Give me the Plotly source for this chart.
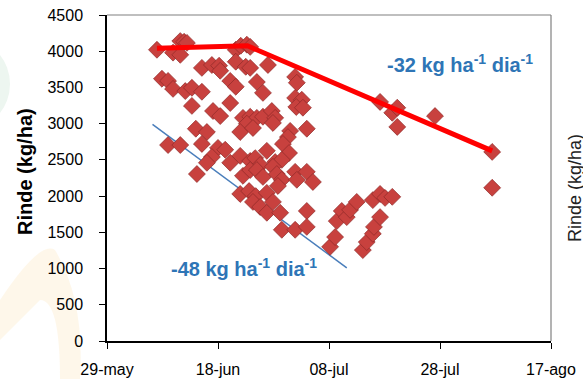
import pandas as pd
import plotly.graph_objects as go

# ---- data ----
fecha_base = "2014-05-29"
dias = [9.0, 13.2, 13.9, 14.4, 11.9, 13.2, 23.2, 24.1, 25.2, 25.8,
        23.2, 25.0, 17.1, 18.9, 20.2, 20.4, 25.8, 29.0, 9.9, 11.0,
        11.9, 14.1, 15.3, 17.1, 22.2, 23.2, 27.0, 28.1, 33.9, 34.2,
        15.3, 19.1, 20.4, 22.2, 33.9, 35.1, 34.1, 35.3, 24.5, 25.8,
        27.0, 28.1, 29.7, 30.3, 29.9, 25.2, 16.0, 18.0, 24.0, 26.3,
        33.0, 36.0, 32.6, 11.0, 13.2, 17.1, 20.0, 21.3, 24.0, 25.8,
        26.7, 27.6, 28.8, 30.3, 31.7, 32.8, 31.5, 18.9, 18.0, 22.2,
        16.2, 24.5, 25.8, 27.0, 28.1, 29.9, 30.6, 31.5, 33.9, 36.0,
        34.2, 37.1, 24.0, 25.6, 26.8, 28.8, 30.8, 26.3, 27.6, 28.8,
        29.9, 31.2, 36.0, 31.5, 33.9, 36.0, 40.2, 41.1, 41.4, 42.3,
        43.2, 43.8, 45.0, 46.1, 46.8, 47.9, 48.1, 49.2, 47.9, 49.2,
        50.1, 51.4, 49.2, 51.4, 52.3, 52.3, 59.1, 69.4, 69.4]
rinde = [4020, 4140, 4130, 4115, 3980, 3950, 4020, 4075, 4090, 4060,
         3855, 3785, 3770, 3810, 3800, 3730, 3770, 3810, 3620, 3590,
         3480, 3450, 3495, 3440, 3590, 3510, 3575, 3425, 3645, 3565,
         3245, 3175, 3105, 3285, 3355, 3330, 3230, 3220, 3080, 3095,
         3080, 3095, 3175, 3080, 3010, 3000, 2930, 2885, 2885, 2940,
         2900, 2930, 2815, 2705, 2705, 2720, 2665, 2640, 2555, 2485,
         2525, 2430, 2625, 2470, 2720, 2595, 2500, 2540, 2460, 2460,
         2305, 2280, 2360, 2360, 2265, 2405, 2305, 2225, 2335, 2335,
         2225, 2195, 2030, 2070, 2000, 2045, 2140, 1920, 1850, 1770,
         1920, 1770, 1795, 1535, 1535, 1575, 1300, 1435, 1655, 1795,
         1710, 1810, 1920, 1255, 1365, 1480, 1575, 1710, 1945, 2030,
         1975, 1990, 3300, 3150, 3220, 2955, 3105, 2610, 2115]

# upper boundary (red) and lower trend (blue)
dias_limite = [9.0, 25.3, 69.4]
rinde_limite = [4040, 4075, 2625]
dias_azul = [8.2, 43.2]
rinde_azul = [2990, 1010]

tick_dias = [0, 20, 40, 60, 80]
tick_text = ["29-may", "18-jun", "08-jul", "28-jul", "17-ago"]
y_ticks = [0, 500, 1000, 1500, 2000, 2500, 3000, 3500, 4000, 4500]

base = pd.Timestamp(fecha_base)
to_date = lambda ds: [base + pd.Timedelta(days=d) for d in ds]

fig = go.Figure()
fig.add_trace(go.Scatter(
    x=to_date(dias_azul), y=rinde_azul, mode="lines",
    line=dict(color="#4A7EBB", width=1.5), hoverinfo="skip"))
fig.add_trace(go.Scatter(
    x=to_date(dias), y=rinde, mode="markers",
    marker=dict(symbol="diamond", size=13, color="#C8413E",
                line=dict(color="#8E2A28", width=0.7))))
fig.add_trace(go.Scatter(
    x=to_date(dias_limite), y=rinde_limite, mode="lines",
    line=dict(color="#FF0000", width=5), hoverinfo="skip"))

font_main = "Liberation Sans, Arial, sans-serif"
L, R, T, B = 107, 32, 15, 38
W, H = 583, 379
pw, ph = W - L - R, H - T - B
px = lambda x: (x - L) / pw
py = lambda y: (H - B - y) / ph

fig.update_layout(
    width=W, height=H, margin=dict(l=L, r=R, t=T, b=B, autoexpand=False),
    paper_bgcolor="white", plot_bgcolor="white", showlegend=False,
    font=dict(family=font_main, size=16, color="black"),
    xaxis=dict(type="date", automargin=False,
               range=[base, base + pd.Timedelta(days=80)],
               tickvals=to_date(tick_dias), ticktext=tick_text,
               ticks="outside", ticklen=6, tickcolor="black", tickwidth=1,
               showline=True, linecolor="black", linewidth=1.5,
               showgrid=False, zeroline=False, ticklabelstandoff=7,
               tickfont=dict(size=16)),
    yaxis=dict(range=[0, 4500], tickvals=y_ticks, automargin=False,
               ticks="outside", ticklen=6, tickcolor="black", tickwidth=1,
               showline=True, linecolor="black", linewidth=1.5,
               showgrid=False, zeroline=False, ticklabelstandoff=13,
               tickfont=dict(size=16)),
    shapes=[
        # faint watermark pieces
        dict(type="circle", xref="paper", yref="paper", layer="below",
             x0=px(-70), x1=px(10), y0=py(128), y1=py(40),
             fillcolor="#EDF6F0", line=dict(width=0)),
        dict(type="path", xref="paper", yref="paper", layer="below",
             path=f"M {px(0)},{py(300)} Q {px(40)},{py(240)} {px(55)},{py(250)} "
                  f"Q {px(85)},{py(300)} {px(80)},{py(379)} L {px(60)},{py(379)} "
                  f"Q {px(60)},{py(300)} {px(40)},{py(300)} Q {px(20)},{py(320)} {px(0)},{py(340)} Z",
             fillcolor="rgba(250,210,140,0.18)", line=dict(width=0)),
        # plot area border (top/right grey)
        dict(type="line", xref="paper", yref="paper", x0=0, x1=1, y0=1, y1=1,
             line=dict(color="#808080", width=1.2)),
        dict(type="line", xref="paper", yref="paper", x0=1, x1=1, y0=0, y1=1,
             line=dict(color="#808080", width=1.2)),
    ],
    annotations=[
        dict(text="<b>Rinde (kg/ha)</b>", xref="paper", yref="paper",
             x=px(25), y=py(172), textangle=-90, showarrow=False,
             font=dict(size=20, color="black"), xanchor="center", yanchor="middle"),
        dict(text="Rinde (kg/ha)", xref="paper", yref="paper",
             x=px(575), y=py(188), textangle=-90, showarrow=False,
             font=dict(size=18, color="#222"), xanchor="center", yanchor="middle"),
        dict(text="<b>-32 kg ha<sup>-1</sup> dia<sup>-1</sup></b>", xref="paper", yref="paper",
             x=px(460), y=py(63), showarrow=False,
             font=dict(size=20, color="#2E75B6"), xanchor="center", yanchor="middle"),
        dict(text="<b>-48 kg ha<sup>-1</sup> dia<sup>-1</sup></b>", xref="paper", yref="paper",
             x=px(244), y=py(267), showarrow=False,
             font=dict(size=20, color="#2E75B6"), xanchor="center", yanchor="middle"),
    ],
)

fig.write_html("out.html")
